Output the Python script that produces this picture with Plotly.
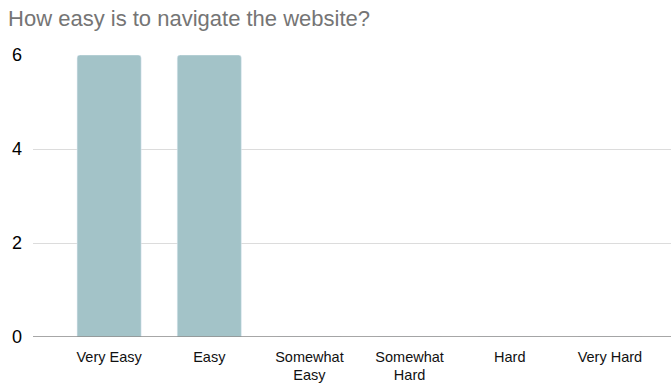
import plotly.graph_objects as go

categories = ["Very Easy", "Easy", "Somewhat<br>Easy", "Somewhat<br>Hard", "Hard", "Very Hard"]
values = [6, 6, 0, 0, 0, 0]
y_ticks = [0, 2, 4, 6]

fig = go.Figure(go.Bar(
    x=list(range(len(categories))), y=values,
    marker=dict(color="#a3c3c8", cornerradius=3),
    width=0.64,
))
fig.update_layout(
    width=671, height=385,
    margin=dict(l=33, r=0, t=55, b=48),
    paper_bgcolor="white", plot_bgcolor="white",
    font=dict(family="Liberation Sans, Arial, sans-serif", size=15, color="#000"),
    title=dict(text="How easy is to navigate the website?", x=0.012, xanchor="left",
               y=0.953, yanchor="middle",
               font=dict(size=22, color="#757575")),
    showlegend=False,
)
fig.update_xaxes(
    range=[-0.76, 5.61], tickmode="array",
    tickvals=list(range(len(categories))), ticktext=categories,
    showgrid=False, showline=False, zeroline=False, ticks="",
    tickfont=dict(size=14.5, color="#111"), ticklabelstandoff=9,
)
fig.update_yaxes(
    range=[0, 6], tickvals=y_ticks, showgrid=True, gridcolor="#dcdcdc",
    zeroline=False, showline=False, ticks="",
    tickfont=dict(size=18, color="#000"), ticklabelstandoff=10,
)
fig.add_shape(type="line", xref="paper", yref="y", x0=0, x1=1, y0=0, y1=0,
              line=dict(color="#8a8a8a", width=1.5))
fig.write_html("out.html")
